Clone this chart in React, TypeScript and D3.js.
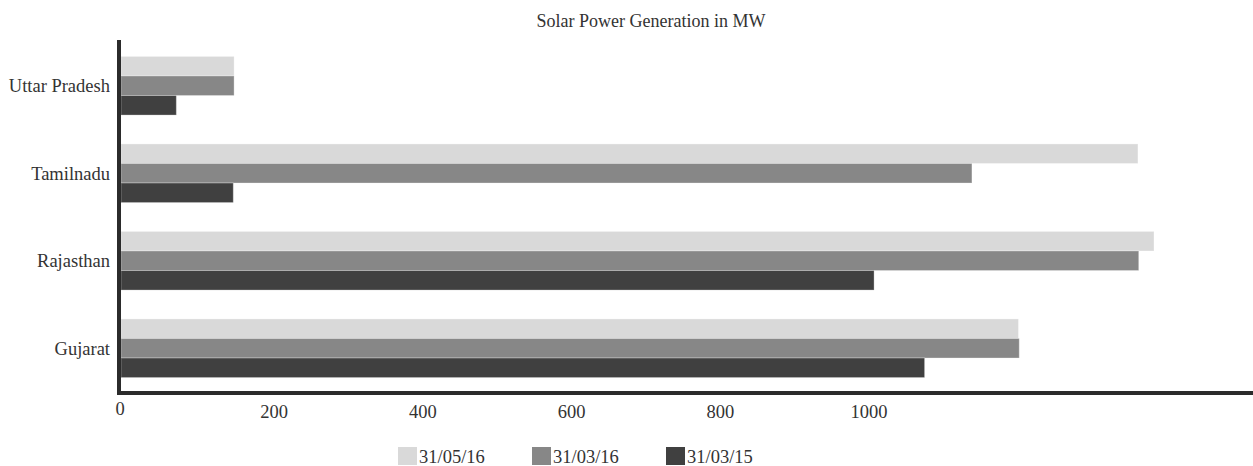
import React from "react";
import * as d3 from "d3";

const categories = ["Uttar Pradesh", "Tamilnadu", "Rajasthan", "Gujarat"];
const seriesNames = ["31/05/16", "31/03/16", "31/03/15"];
const may16 = [141, 1268, 1288, 1119];
const mar16 = [141, 1061, 1269, 1120];
const mar15 = [69, 140, 939, 1002];
const tickLabels = [0, 200, 400, 600, 800, 1000];
const colors = ["#d9d9d9", "#878787", "#404040"];

const W = 1253;
const H = 466;
const FONT = "'Liberation Serif', 'Times New Roman', serif";

export default function App() {
  const series = [may16, mar16, mar15];
  const x = d3.scaleLinear().domain([0, 1300]).range([121, 121 + 1300 * 0.802]);
  const xTick = d3.scaleLinear().domain([200, 1000]).range([274, 869]);
  const y = d3.scaleBand<string>().domain(categories).range([42, 392]).paddingInner(0.33).paddingOuter(0.165);
  const inner = d3.scaleBand<string>().domain(seriesNames).range([0, y.bandwidth()]);

  return (
    <svg width={W} height={H} style={{ position: "absolute", left: 0, top: 0, background: "#fff" }}>
      <text x={651} y={27} textAnchor="middle" fontFamily={FONT} fontSize={18} fill="#333">
        Solar Power Generation in MW
      </text>
      {categories.map((c, i) => (
        <g key={c}>
          {seriesNames.map((s, j) => (
            <rect
              key={s}
              x={x(0)}
              y={(y(c) as number) + (inner(s) as number)}
              width={x(series[j][i]) - x(0)}
              height={inner.bandwidth()}
              fill={colors[j]}
              stroke="#ffffff"
              strokeOpacity={0.3}
              strokeWidth={1}
            />
          ))}
          <text
            x={110}
            y={(y(c) as number) + y.bandwidth() / 2}
            dy="0.35em"
            textAnchor="end"
            fontFamily={FONT}
            fontSize={18.5}
            fill="#333"
          >
            {c}
          </text>
        </g>
      ))}
      <rect x={117} y={40} width={4} height={355} fill="#2b2b2b" />
      <rect x={117} y={391} width={W - 117} height={4} fill="#2b2b2b" />
      {tickLabels.map((t) => (
        <text
          key={t}
          x={t === 0 ? 120 : xTick(t)}
          y={t === 0 ? 415 : 418}
          textAnchor="middle"
          fontFamily={FONT}
          fontSize={18.5}
          fill="#333"
        >
          {t}
        </text>
      ))}
      {seriesNames.map((s, j) => {
        const lx = [398, 532, 666][j];
        return (
          <g key={s}>
            <rect x={lx} y={447} width={19} height={18} fill={colors[j]} />
            <text x={lx + 21} y={463} fontFamily={FONT} fontSize={18.5} fill="#333">
              {s}
            </text>
          </g>
        );
      })}
    </svg>
  );
}
